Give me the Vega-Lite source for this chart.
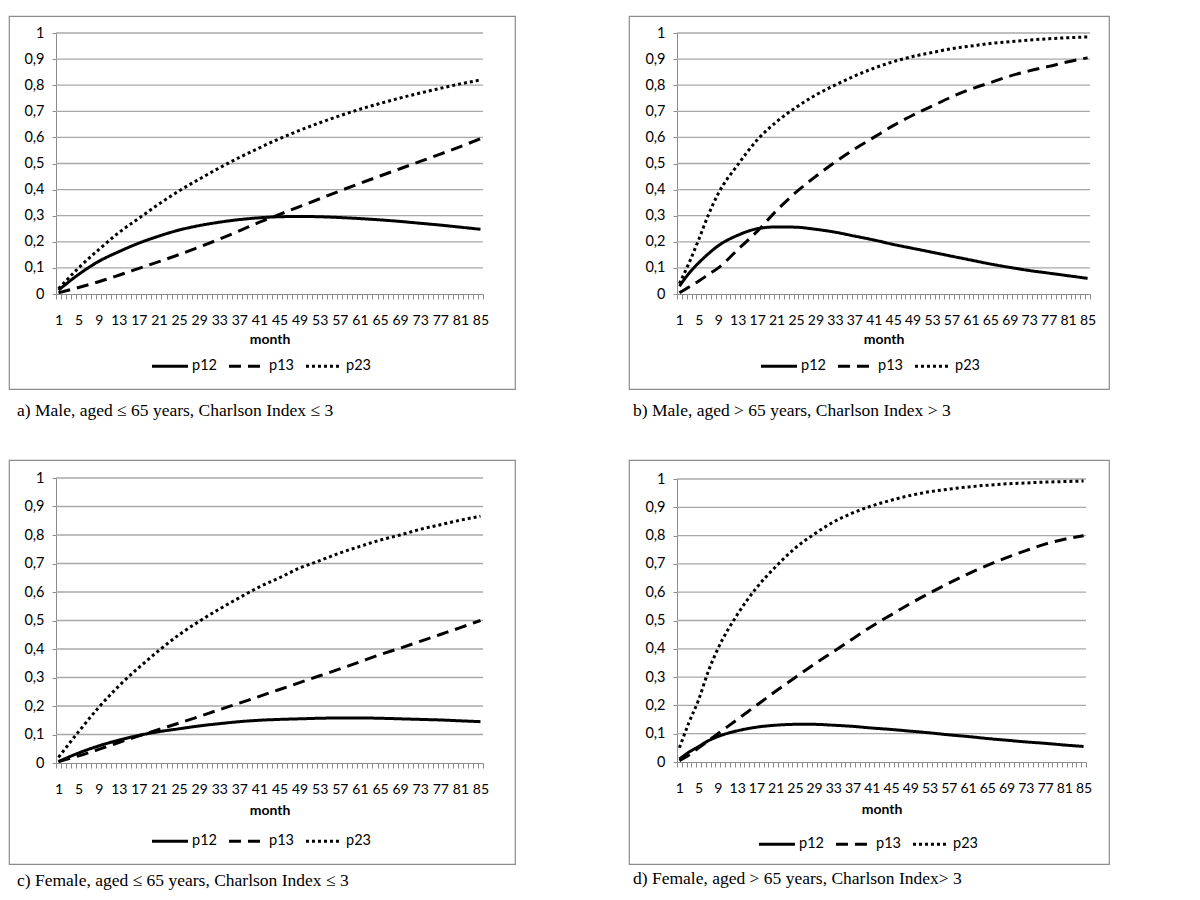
{
"$schema":"https://vega.github.io/schema/vega-lite/v6.json",
"background":"white",
"padding":{"left":8,"top":15,"right":0,"bottom":0},
"columns":2,
"bounds":"flush",
"spacing":{"row":71,"column":114},
"config":{"view":{"stroke":"#8c8c8c","strokeWidth":1.2},"font":"Lato"},
"resolve":{"legend":{"strokeDash":"independent"},"scale":{"strokeDash":"independent"}},
"datasets":{
"grid":[{"g":0.1},{"g":0.2},{"g":0.3},{"g":0.4},{"g":0.5},{"g":0.6},{"g":0.7},{"g":0.8},{"g":0.9},{"g":1.0}],
"curves":[
{"panel":"a","month":1,"p12":0.015,"p13":0.005,"p23":0.02},
{"panel":"a","month":5,"p12":0.075,"p13":0.025,"p23":0.1},
{"panel":"a","month":9,"p12":0.125,"p13":0.047,"p23":0.17},
{"panel":"a","month":13,"p12":0.162,"p13":0.072,"p23":0.235},
{"panel":"a","month":17,"p12":0.195,"p13":0.098,"p23":0.29},
{"panel":"a","month":21,"p12":0.222,"p13":0.124,"p23":0.345},
{"panel":"a","month":25,"p12":0.245,"p13":0.151,"p23":0.395},
{"panel":"a","month":29,"p12":0.262,"p13":0.18,"p23":0.44},
{"panel":"a","month":33,"p12":0.275,"p13":0.21,"p23":0.483},
{"panel":"a","month":37,"p12":0.285,"p13":0.242,"p23":0.523},
{"panel":"a","month":41,"p12":0.292,"p13":0.275,"p23":0.56},
{"panel":"a","month":45,"p12":0.296,"p13":0.305,"p23":0.595},
{"panel":"a","month":49,"p12":0.297,"p13":0.335,"p23":0.627},
{"panel":"a","month":53,"p12":0.296,"p13":0.365,"p23":0.656},
{"panel":"a","month":57,"p12":0.293,"p13":0.395,"p23":0.683},
{"panel":"a","month":61,"p12":0.289,"p13":0.424,"p23":0.708},
{"panel":"a","month":65,"p12":0.284,"p13":0.452,"p23":0.73},
{"panel":"a","month":69,"p12":0.278,"p13":0.48,"p23":0.751},
{"panel":"a","month":73,"p12":0.271,"p13":0.508,"p23":0.77},
{"panel":"a","month":77,"p12":0.264,"p13":0.536,"p23":0.788},
{"panel":"a","month":81,"p12":0.256,"p13":0.565,"p23":0.805},
{"panel":"a","month":85,"p12":0.248,"p13":0.595,"p23":0.82},
{"panel":"b","month":1,"p12":0.03,"p13":0.005,"p23":0.04},
{"panel":"b","month":3,"p12":0.08,"p13":0.027,"p23":0.12},
{"panel":"b","month":5,"p12":0.12,"p13":0.05,"p23":0.21},
{"panel":"b","month":7,"p12":0.155,"p13":0.075,"p23":0.305},
{"panel":"b","month":9,"p12":0.185,"p13":0.1,"p23":0.385},
{"panel":"b","month":13,"p12":0.225,"p13":0.17,"p23":0.495},
{"panel":"b","month":17,"p12":0.25,"p13":0.24,"p23":0.59},
{"panel":"b","month":21,"p12":0.257,"p13":0.32,"p23":0.66},
{"panel":"b","month":25,"p12":0.256,"p13":0.39,"p23":0.715},
{"panel":"b","month":29,"p12":0.248,"p13":0.45,"p23":0.762},
{"panel":"b","month":33,"p12":0.237,"p13":0.505,"p23":0.8},
{"panel":"b","month":37,"p12":0.222,"p13":0.555,"p23":0.835},
{"panel":"b","month":41,"p12":0.207,"p13":0.6,"p23":0.865},
{"panel":"b","month":45,"p12":0.19,"p13":0.645,"p23":0.89},
{"panel":"b","month":49,"p12":0.175,"p13":0.685,"p23":0.91},
{"panel":"b","month":53,"p12":0.16,"p13":0.72,"p23":0.925},
{"panel":"b","month":57,"p12":0.145,"p13":0.755,"p23":0.94},
{"panel":"b","month":61,"p12":0.13,"p13":0.785,"p23":0.95},
{"panel":"b","month":65,"p12":0.115,"p13":0.81,"p23":0.96},
{"panel":"b","month":69,"p12":0.102,"p13":0.835,"p23":0.967},
{"panel":"b","month":73,"p12":0.09,"p13":0.855,"p23":0.973},
{"panel":"b","month":77,"p12":0.08,"p13":0.872,"p23":0.978},
{"panel":"b","month":81,"p12":0.07,"p13":0.89,"p23":0.982},
{"panel":"b","month":85,"p12":0.06,"p13":0.905,"p23":0.985},
{"panel":"c","month":1,"p12":0.005,"p13":0.005,"p23":0.02},
{"panel":"c","month":5,"p12":0.035,"p13":0.025,"p23":0.11},
{"panel":"c","month":9,"p12":0.06,"p13":0.048,"p23":0.195},
{"panel":"c","month":13,"p12":0.08,"p13":0.072,"p23":0.27},
{"panel":"c","month":17,"p12":0.097,"p13":0.095,"p23":0.335},
{"panel":"c","month":21,"p12":0.11,"p13":0.118,"p23":0.395},
{"panel":"c","month":25,"p12":0.12,"p13":0.14,"p23":0.45},
{"panel":"c","month":29,"p12":0.13,"p13":0.163,"p23":0.497},
{"panel":"c","month":33,"p12":0.138,"p13":0.187,"p23":0.54},
{"panel":"c","month":37,"p12":0.145,"p13":0.21,"p23":0.58},
{"panel":"c","month":41,"p12":0.15,"p13":0.234,"p23":0.618},
{"panel":"c","month":45,"p12":0.153,"p13":0.258,"p23":0.65},
{"panel":"c","month":49,"p12":0.155,"p13":0.282,"p23":0.684},
{"panel":"c","month":53,"p12":0.157,"p13":0.306,"p23":0.71},
{"panel":"c","month":57,"p12":0.158,"p13":0.33,"p23":0.737},
{"panel":"c","month":61,"p12":0.158,"p13":0.355,"p23":0.76},
{"panel":"c","month":65,"p12":0.157,"p13":0.38,"p23":0.782},
{"panel":"c","month":69,"p12":0.155,"p13":0.403,"p23":0.8},
{"panel":"c","month":73,"p12":0.153,"p13":0.427,"p23":0.82},
{"panel":"c","month":77,"p12":0.151,"p13":0.451,"p23":0.836},
{"panel":"c","month":81,"p12":0.148,"p13":0.475,"p23":0.852},
{"panel":"c","month":85,"p12":0.145,"p13":0.5,"p23":0.866},
{"panel":"d","month":1,"p12":0.01,"p13":0.005,"p23":0.05},
{"panel":"d","month":3,"p12":0.035,"p13":0.025,"p23":0.14},
{"panel":"d","month":5,"p12":0.055,"p13":0.05,"p23":0.22},
{"panel":"d","month":7,"p12":0.075,"p13":0.075,"p23":0.32},
{"panel":"d","month":9,"p12":0.09,"p13":0.1,"p23":0.4},
{"panel":"d","month":13,"p12":0.11,"p13":0.15,"p23":0.52},
{"panel":"d","month":17,"p12":0.123,"p13":0.2,"p23":0.615},
{"panel":"d","month":21,"p12":0.13,"p13":0.25,"p23":0.69},
{"panel":"d","month":25,"p12":0.133,"p13":0.298,"p23":0.755},
{"panel":"d","month":29,"p12":0.133,"p13":0.345,"p23":0.805},
{"panel":"d","month":33,"p12":0.13,"p13":0.39,"p23":0.848},
{"panel":"d","month":37,"p12":0.126,"p13":0.435,"p23":0.88},
{"panel":"d","month":41,"p12":0.12,"p13":0.48,"p23":0.905},
{"panel":"d","month":45,"p12":0.115,"p13":0.52,"p23":0.925},
{"panel":"d","month":49,"p12":0.109,"p13":0.56,"p23":0.942},
{"panel":"d","month":53,"p12":0.103,"p13":0.597,"p23":0.955},
{"panel":"d","month":57,"p12":0.096,"p13":0.632,"p23":0.964},
{"panel":"d","month":61,"p12":0.09,"p13":0.665,"p23":0.972},
{"panel":"d","month":65,"p12":0.083,"p13":0.695,"p23":0.978},
{"panel":"d","month":69,"p12":0.077,"p13":0.722,"p23":0.983},
{"panel":"d","month":73,"p12":0.071,"p13":0.747,"p23":0.986},
{"panel":"d","month":77,"p12":0.066,"p13":0.77,"p23":0.989},
{"panel":"d","month":81,"p12":0.06,"p13":0.787,"p23":0.991},
{"panel":"d","month":85,"p12":0.055,"p13":0.8,"p23":0.993}
]},
"concat":[
{"width":506,"height":373,
 "title":{"text":"a) Male, aged ≤ 65 years, Charlson Index ≤ 3","orient":"bottom","anchor":"start","frame":"group","offset":13,"dx":8,"font":"Liberation Serif","fontSize":17.5,"fontWeight":"normal","color":"black"},
 "layer":[
  {"data":{"name":"grid"},"mark":{"type":"rule","color":"#a8a8a8","strokeWidth":1.3},
   "encoding":{"y":{"field":"g","type":"quantitative"},"x":{"datum":0.5,"type":"quantitative"},"x2":{"datum":85.5}}},
  {"data":{"name":"curves"},"transform":[{"filter":"datum.panel == 'a'"},{"fold":["p12","p13","p23"],"as":["series","value"]}],
   "mark":{"type":"line","interpolate":"monotone","color":"black","strokeWidth":3},
   "encoding":{
    "x":{"field":"month","type":"quantitative","scale":{"domain":[0.5,85.5],"nice":false,"zero":false,"range":[47,474]},
      "axis":{"title":"month","titleFont":"Lato","titleFontSize":14,"titleFontWeight":"bold","titleColor":"black","titlePadding":5,"tickCount":200,
       "values":[0.5,1.5,2.5,3.5,4.5,5.5,6.5,7.5,8.5,9.5,10.5,11.5,12.5,13.5,14.5,15.5,16.5,17.5,18.5,19.5,20.5,21.5,22.5,23.5,24.5,25.5,26.5,27.5,28.5,29.5,30.5,31.5,32.5,33.5,34.5,35.5,36.5,37.5,38.5,39.5,40.5,41.5,42.5,43.5,44.5,45.5,46.5,47.5,48.5,49.5,50.5,51.5,52.5,53.5,54.5,55.5,56.5,57.5,58.5,59.5,60.5,61.5,62.5,63.5,64.5,65.5,66.5,67.5,68.5,69.5,70.5,71.5,72.5,73.5,74.5,75.5,76.5,77.5,78.5,79.5,80.5,81.5,82.5,83.5,84.5,85.5],
       "labelExpr":"(datum.value - 0.5) % 4 == 0 && datum.value < 85.2 ? '' + (datum.value + 0.5) : ''",
       "labelOffset":2.5,"labelOverlap":false,"labelBound":false,"labelFlush":false,"labelFont":"Lato","labelFontSize":14,"labelColor":"black","labelPadding":14,
       "tickSize":5,"tickColor":"#8c8c8c","domainColor":"#8c8c8c","grid":false,"offset":-95}},
    "y":{"field":"value","type":"quantitative","scale":{"domain":[0,1],"nice":false,"zero":false,"range":[278,17]},
      "axis":{"title":null,"tickCount":50,"values":[0,0.1,0.2,0.3,0.4,0.5,0.6,0.7,0.8,0.9,1],"labelExpr":"replace(format(datum.value,'.1~f'),'.',',')","grid":false,"labelOverlap":false,
       "tickSize":4,"tickColor":"#8c8c8c","domainColor":"#8c8c8c","labelFont":"Lato","labelFontSize":14.5,"labelColor":"black","labelPadding":8,"offset":-47}},
    "strokeDash":{"field":"series","type":"nominal","scale":{"domain":["p12","p13","p23"],"range":[[1,0],[12,7],[3,3]]},
      "legend":{"orient":"none","legendX":141,"legendY":330,"direction":"horizontal","title":null,"symbolType":"stroke","symbolStrokeWidth":3,"symbolSize":1300,"symbolStrokeColor":"black","labelFont":"Lato","labelFontSize":14.5,"labelColor":"black","labelOffset":2,"columnPadding":5}}
   }}
 ]},
{"width":480,"height":373,
 "title":{"text":"b) Male, aged > 65 years, Charlson Index > 3","orient":"bottom","anchor":"start","frame":"group","offset":13,"dx":4,"font":"Liberation Serif","fontSize":17.5,"fontWeight":"normal","color":"black"},
 "layer":[
  {"data":{"name":"grid"},"mark":{"type":"rule","color":"#a8a8a8","strokeWidth":1.3},
   "encoding":{"y":{"field":"g","type":"quantitative"},"x":{"datum":0.5,"type":"quantitative"},"x2":{"datum":85.5}}},
  {"data":{"name":"curves"},"transform":[{"filter":"datum.panel == 'b'"},{"fold":["p12","p13","p23"],"as":["series","value"]}],
   "mark":{"type":"line","interpolate":"monotone","color":"black","strokeWidth":3},
   "encoding":{
    "x":{"field":"month","type":"quantitative","scale":{"domain":[0.5,85.5],"nice":false,"zero":false,"range":[48,461]},
      "axis":{"title":"month","titleFont":"Lato","titleFontSize":14,"titleFontWeight":"bold","titleColor":"black","titlePadding":5,"tickCount":200,
       "values":[0.5,1.5,2.5,3.5,4.5,5.5,6.5,7.5,8.5,9.5,10.5,11.5,12.5,13.5,14.5,15.5,16.5,17.5,18.5,19.5,20.5,21.5,22.5,23.5,24.5,25.5,26.5,27.5,28.5,29.5,30.5,31.5,32.5,33.5,34.5,35.5,36.5,37.5,38.5,39.5,40.5,41.5,42.5,43.5,44.5,45.5,46.5,47.5,48.5,49.5,50.5,51.5,52.5,53.5,54.5,55.5,56.5,57.5,58.5,59.5,60.5,61.5,62.5,63.5,64.5,65.5,66.5,67.5,68.5,69.5,70.5,71.5,72.5,73.5,74.5,75.5,76.5,77.5,78.5,79.5,80.5,81.5,82.5,83.5,84.5,85.5],
       "labelExpr":"(datum.value - 0.5) % 4 == 0 && datum.value < 85.2 ? '' + (datum.value + 0.5) : ''",
       "labelOffset":2.4,"labelOverlap":false,"labelBound":false,"labelFlush":false,"labelFont":"Lato","labelFontSize":14,"labelColor":"black","labelPadding":14,
       "tickSize":5,"tickColor":"#8c8c8c","domainColor":"#8c8c8c","grid":false,"offset":-95}},
    "y":{"field":"value","type":"quantitative","scale":{"domain":[0,1],"nice":false,"zero":false,"range":[278,17]},
      "axis":{"title":null,"tickCount":50,"values":[0,0.1,0.2,0.3,0.4,0.5,0.6,0.7,0.8,0.9,1],"labelExpr":"replace(format(datum.value,'.1~f'),'.',',')","grid":false,"labelOverlap":false,
       "tickSize":4,"tickColor":"#8c8c8c","domainColor":"#8c8c8c","labelFont":"Lato","labelFontSize":14.5,"labelColor":"black","labelPadding":8,"offset":-48}},
    "strokeDash":{"field":"series","type":"nominal","scale":{"domain":["p12","p13","p23"],"range":[[1,0],[12,7],[3,3]]},
      "legend":{"orient":"none","legendX":130,"legendY":330,"direction":"horizontal","title":null,"symbolType":"stroke","symbolStrokeWidth":3,"symbolSize":1300,"symbolStrokeColor":"black","labelFont":"Lato","labelFontSize":14.5,"labelColor":"black","labelOffset":2,"columnPadding":5}}
   }}
 ]},
{"width":506,"height":404,
 "title":{"text":"c) Female, aged ≤ 65 years, Charlson Index ≤ 3","orient":"bottom","anchor":"start","frame":"group","offset":8,"dx":8,"font":"Liberation Serif","fontSize":17.5,"fontWeight":"normal","color":"black"},
 "layer":[
  {"data":{"name":"grid"},"mark":{"type":"rule","color":"#a8a8a8","strokeWidth":1.3},
   "encoding":{"y":{"field":"g","type":"quantitative"},"x":{"datum":0.5,"type":"quantitative"},"x2":{"datum":85.5}}},
  {"data":{"name":"curves"},"transform":[{"filter":"datum.panel == 'c'"},{"fold":["p12","p13","p23"],"as":["series","value"]}],
   "mark":{"type":"line","interpolate":"monotone","color":"black","strokeWidth":3},
   "encoding":{
    "x":{"field":"month","type":"quantitative","scale":{"domain":[0.5,85.5],"nice":false,"zero":false,"range":[47,474]},
      "axis":{"title":"month","titleFont":"Lato","titleFontSize":14,"titleFontWeight":"bold","titleColor":"black","titlePadding":7,"tickCount":200,
       "values":[0.5,1.5,2.5,3.5,4.5,5.5,6.5,7.5,8.5,9.5,10.5,11.5,12.5,13.5,14.5,15.5,16.5,17.5,18.5,19.5,20.5,21.5,22.5,23.5,24.5,25.5,26.5,27.5,28.5,29.5,30.5,31.5,32.5,33.5,34.5,35.5,36.5,37.5,38.5,39.5,40.5,41.5,42.5,43.5,44.5,45.5,46.5,47.5,48.5,49.5,50.5,51.5,52.5,53.5,54.5,55.5,56.5,57.5,58.5,59.5,60.5,61.5,62.5,63.5,64.5,65.5,66.5,67.5,68.5,69.5,70.5,71.5,72.5,73.5,74.5,75.5,76.5,77.5,78.5,79.5,80.5,81.5,82.5,83.5,84.5,85.5],
       "labelExpr":"(datum.value - 0.5) % 4 == 0 && datum.value < 85.2 ? '' + (datum.value + 0.5) : ''",
       "labelOffset":2.5,"labelOverlap":false,"labelBound":false,"labelFlush":false,"labelFont":"Lato","labelFontSize":14,"labelColor":"black","labelPadding":14,
       "tickSize":5,"tickColor":"#8c8c8c","domainColor":"#8c8c8c","grid":false,"offset":-101}},
    "y":{"field":"value","type":"quantitative","scale":{"domain":[0,1],"nice":false,"zero":false,"range":[303,18]},
      "axis":{"title":null,"tickCount":50,"values":[0,0.1,0.2,0.3,0.4,0.5,0.6,0.7,0.8,0.9,1],"labelExpr":"replace(format(datum.value,'.1~f'),'.',',')","grid":false,"labelOverlap":false,
       "tickSize":4,"tickColor":"#8c8c8c","domainColor":"#8c8c8c","labelFont":"Lato","labelFontSize":14.5,"labelColor":"black","labelPadding":8,"offset":-47}},
    "strokeDash":{"field":"series","type":"nominal","scale":{"domain":["p12","p13","p23"],"range":[[1,0],[12,7],[3,3]]},
      "legend":{"orient":"none","legendX":141,"legendY":361,"direction":"horizontal","title":null,"symbolType":"stroke","symbolStrokeWidth":3,"symbolSize":1300,"symbolStrokeColor":"black","labelFont":"Lato","labelFontSize":14.5,"labelColor":"black","labelOffset":2,"columnPadding":5}}
   }}
 ]},
{"width":480,"height":404,
 "title":{"text":"d) Female, aged > 65 years, Charlson Index> 3","orient":"bottom","anchor":"start","frame":"group","offset":6,"dx":4,"font":"Liberation Serif","fontSize":17.5,"fontWeight":"normal","color":"black"},
 "layer":[
  {"data":{"name":"grid"},"mark":{"type":"rule","color":"#a8a8a8","strokeWidth":1.3},
   "encoding":{"y":{"field":"g","type":"quantitative"},"x":{"datum":0.5,"type":"quantitative"},"x2":{"datum":85.5}}},
  {"data":{"name":"curves"},"transform":[{"filter":"datum.panel == 'd'"},{"fold":["p12","p13","p23"],"as":["series","value"]}],
   "mark":{"type":"line","interpolate":"monotone","color":"black","strokeWidth":3},
   "encoding":{
    "x":{"field":"month","type":"quantitative","scale":{"domain":[0.5,85.5],"nice":false,"zero":false,"range":[48,457]},
      "axis":{"title":"month","titleFont":"Lato","titleFontSize":14,"titleFontWeight":"bold","titleColor":"black","titlePadding":7,"tickCount":200,
       "values":[0.5,1.5,2.5,3.5,4.5,5.5,6.5,7.5,8.5,9.5,10.5,11.5,12.5,13.5,14.5,15.5,16.5,17.5,18.5,19.5,20.5,21.5,22.5,23.5,24.5,25.5,26.5,27.5,28.5,29.5,30.5,31.5,32.5,33.5,34.5,35.5,36.5,37.5,38.5,39.5,40.5,41.5,42.5,43.5,44.5,45.5,46.5,47.5,48.5,49.5,50.5,51.5,52.5,53.5,54.5,55.5,56.5,57.5,58.5,59.5,60.5,61.5,62.5,63.5,64.5,65.5,66.5,67.5,68.5,69.5,70.5,71.5,72.5,73.5,74.5,75.5,76.5,77.5,78.5,79.5,80.5,81.5,82.5,83.5,84.5,85.5],
       "labelExpr":"(datum.value - 0.5) % 4 == 0 && datum.value < 85.2 ? '' + (datum.value + 0.5) : ''",
       "labelOffset":2.4,"labelOverlap":false,"labelBound":false,"labelFlush":false,"labelFont":"Lato","labelFontSize":14,"labelColor":"black","labelPadding":14,
       "tickSize":5,"tickColor":"#8c8c8c","domainColor":"#8c8c8c","grid":false,"offset":-102}},
    "y":{"field":"value","type":"quantitative","scale":{"domain":[0,1],"nice":false,"zero":false,"range":[302,19]},
      "axis":{"title":null,"tickCount":50,"values":[0,0.1,0.2,0.3,0.4,0.5,0.6,0.7,0.8,0.9,1],"labelExpr":"replace(format(datum.value,'.1~f'),'.',',')","grid":false,"labelOverlap":false,
       "tickSize":4,"tickColor":"#8c8c8c","domainColor":"#8c8c8c","labelFont":"Lato","labelFontSize":14.5,"labelColor":"black","labelPadding":8,"offset":-48}},
    "strokeDash":{"field":"series","type":"nominal","scale":{"domain":["p12","p13","p23"],"range":[[1,0],[12,7],[3,3]]},
      "legend":{"orient":"none","legendX":128,"legendY":364,"direction":"horizontal","title":null,"symbolType":"stroke","symbolStrokeWidth":3,"symbolSize":1300,"symbolStrokeColor":"black","labelFont":"Lato","labelFontSize":14.5,"labelColor":"black","labelOffset":2,"columnPadding":5}}
   }}
 ]}
]
}
